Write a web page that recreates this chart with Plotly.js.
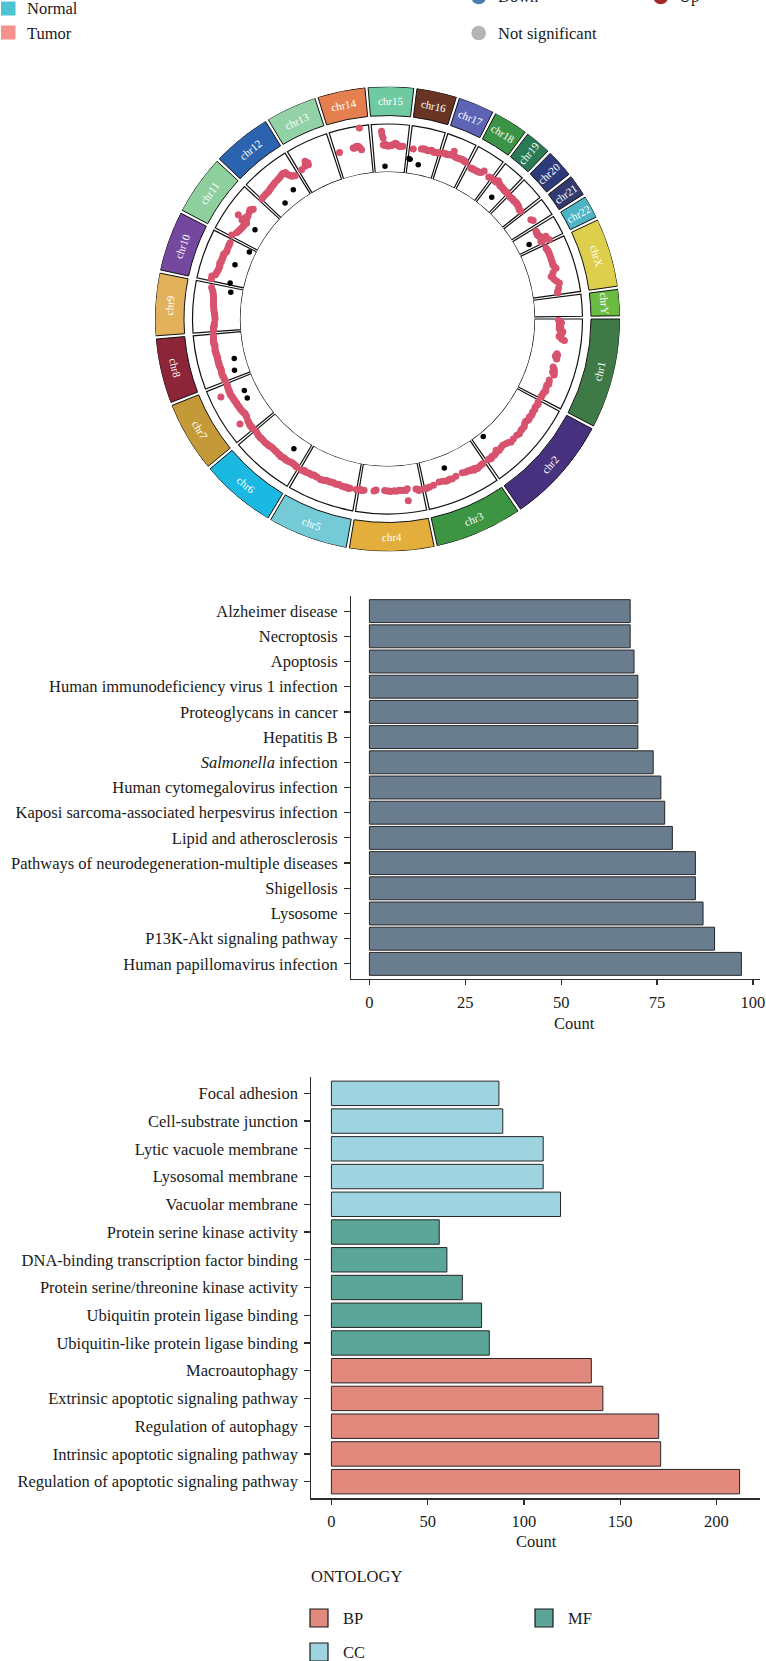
<!DOCTYPE html>
<html>
<head>
<meta charset="utf-8">
<script src="https://cdn.plot.ly/plotly-3.0.1.min.js"></script>
<style>
  html, body { margin: 0; padding: 0; background: #ffffff; }
  #chart { width: 766px; height: 1661px; }
</style>
</head>
<body>
<div id="chart"></div>
<script>
// ---------- genome layout ----------
const chromNames = ['chr1','chr2','chr3','chr4','chr5','chr6','chr7','chr8','chr9','chr10','chr11','chr12',
  'chr13','chr14','chr15','chr16','chr17','chr18','chr19','chr20','chr21','chr22','chrX','chrY'];
const chromLengths = [249.25,243.20,198.02,191.15,180.92,171.12,159.14,146.36,141.21,135.53,135.01,133.85,
  115.17,107.35,102.53,90.35,81.20,78.08,59.13,63.03,48.13,51.30,155.27,59.37];
const chromColors = ['#3F7A46','#46327E','#3D9442','#E3AE3B','#74CBD7','#1BB8E1','#C39A37','#8C2538',
  '#E2B15C','#7548A0','#8ECF9E','#2C63AE','#93D1A7','#E57F50','#6FC9A1','#6A3424','#5D63B5','#3B9446',
  '#2B7A56','#2E3B7B','#333A6E','#4CB4C4','#DDCF4C','#69BB41'];
// narrow sectors whose labels run outward instead of along the ring
const radialLabels = ['chr19','chr20','chr21','chr22'];

// ---------- track points: [position (Mb), score] ----------
const sig_chr1  = [[3.6,5.0],[8,5.3],[11,5.6],[14.5,5.5],[17,5.3],[20,5.2],[25,5.5],[29,5.2],[33,5.4],[38,6.0],[43,5.8],[49,5.5],[52,5.3],[56,5.7],[60,6.0],[63,6.5],[105,5.4],[109,5.6],[113,5.2],[117,5.4],[121,5.6],[147,5.3],[152,5.6],[157,5.8],[162,5.5],[165,5.9],[169,6.0],[188,5.4],[193,5.5],[200,5.6],[205,5.3],[215,5.4],[222,5.6],[228,5.4],[233,5.3],[240,5.3],[245,5.2]];
const sig_chr2  = [[6,5.2],[10,5.4],[15,5.3],[24,5.2],[30,5.4],[40,5.3],[45,5.4],[50,5.5],[58,5.3],[64,5.5],[70,5.4],[76,5.2],[83,5.3],[90,5.6],[99,5.6],[106,5.6],[116,5.8],[125,5.6],[140,5.6],[151,5.7],[158,5.4],[166,5.2],[176,5.0],[185,5.1],[195,5.3],[201,4.85],[208,5.3],[215,5.45],[222,5.3],[228,5.6],[233,5.4],[238,5.4]];
const sig_chr3  = [[8,5.45],[15,5.5],[24,5.6],[29,5.7],[34,5.5],[37,5.4],[40,5.7],[47,5.3],[52,5.35],[58,5.2],[65,5.2],[75,5.0],[97,5.1],[110,5.3],[118,5.2],[124,5.25],[130,5.3],[140,5.1],[151,5.0],[170,5.3],[183,5.45],[189,5.5],[194,5.6]];
const sig_chr4  = [[8,5.5],[11,5.7],[15,5.4],[19,5.3],[45,5.0],[46,7.5],[50,5.3],[55,5.2],[63,5.2],[70,5.15],[78,5.3],[85,5.2],[95,5.3],[101,5.2],[107,5.2],[114,5.1],[140,5.1],[143,5.2],[146,5.3],[176,5.4],[182,5.5],[185,5.5],[188,5.3]];
const sig_chr5  = [[1,5.5],[20,5.5],[25,5.6],[31,5.4],[35,5.5],[40,5.5],[47,5.45],[55,5.3],[61,5.35],[66,5.4],[72,5.3],[78,5.3],[83,5.4],[89,5.35],[95,5.3],[100,5.5],[107,5.55],[113,5.6],[124,5.45],[130,5.4],[136,5.3],[142,5.5],[148,5.4],[153,5.4],[159,5.5],[164,5.5],[168,5.35],[172,5.45],[176,5.6]];
const sig_chr6  = [[5,5.55],[8,5.5],[12,5.4],[19,5.35],[25,5.3],[30,5.4],[36,5.5],[41,5.5],[45,5.6],[50,5.45],[55,5.5],[59,5.6],[62,5.65],[66,5.5],[70,5.55],[73,5.5],[80,5.45],[87,5.4],[94,5.4],[101,5.35],[105,5.45],[110,5.5],[114,5.5],[119,5.55],[125,5.6],[133,5.55],[140,5.55],[144,5.6],[148,5.6],[155,5.6],[160,5.5],[166,5.4]];
const sig_chr7  = [[1,5.5],[4,5.6],[8,5.55],[12,5.5],[15,5.6],[20,5.5],[26,5.4],[31,5.35],[36,7.1],[42,5.1],[47,5.05],[53,5.0],[58,5.1],[63,5.2],[68,5.25],[73,5.3],[78,5.3],[82,5.35],[87,5.4],[92,5.4],[97,5.4],[101,5.45],[105,5.5],[110,5.5],[114,5.55],[119,5.6],[123,5.65],[127,5.7],[130,7.7],[132,5.6],[136,5.65],[140,5.65],[143,5.6],[148,5.55],[153,5.5]];
const sig_chr8  = [[3,5.55],[8,5.6],[14,5.6],[19,5.7],[25,5.75],[31,5.65],[37,5.6],[42,5.65],[46,5.7],[53,5.75],[57,5.7],[61,5.75],[67,5.75],[73,5.7],[77,5.7],[82,5.75],[86,5.8],[90,5.8],[94,5.85],[98,5.9],[105,5.8],[112,5.75],[116,5.9],[120,5.85],[124,5.9],[128,5.95],[134,5.85],[141,5.8]];
const sig_chr9  = [[4,5.7],[8,5.7],[11,5.65],[14,5.6],[17,5.55],[20,5.5],[25,5.45],[38,5.3],[45,5.35],[51,5.4],[58,5.5],[65,5.6],[71,5.65],[77,5.7],[82,5.75],[88,5.8],[94,5.85],[101,5.9],[108,6.0],[115,6.1],[122,6.3],[130,6.6]];
const sig_chr10 = [[6,7.0],[14,7.05],[20,6.4],[26,6.3],[31,6.2],[36,6.1],[42,6.05],[48,6.0],[52,6.1],[57,6.2],[62,6.0],[68,6.05],[72,6.0],[76,6.0],[80,6.05],[84,6.1],[90,5.9],[96,5.7],[102,5.75],[112,5.8],[118,5.8],[124,5.8]];
const sig_chr11 = [[4,6.25],[17,5.6],[24,5.4],[30,5.3],[37,5.2],[44,5.1],[50,5.2],[54,5.0],[58,4.9],[58,6.1],[60,5.3],[62,5.5],[64,7.3],[67,5.8],[70,5.4],[74,5.6],[78,5.5],[90,5.8],[96,5.95],[99,5.7],[103,5.5]];
const sig_chr12 = [[2,5.6],[8,5.65],[17,5.7],[24,5.7],[31,5.7],[36,5.8],[42,5.9],[48,6.0],[55,6.1],[62,6.2],[72,6.3],[80,6.4],[86,6.5],[93,6.65],[97,6.7],[100,6.6],[103,6.4],[105,6.55],[108,5.85],[111,5.6],[114,5.2],[119,5.1],[124,4.9]];
const sig_chr13 = [[9,5.25],[23,5.55],[26,5.8],[29,6.2],[30,6.45],[32,6.0],[34,5.5],[35,5.9]];
const sig_chr14 = [[12,5.5],[55,5.7],[58,5.6],[63,5.8],[66,5.95],[71,5.9],[75,5.5],[79,5.05],[82,9.6]];
const sig_chr15 = [[27,8.5],[28,7.8],[31,7.1],[31,5.7],[35,5.5],[37,5.8],[39,5.6],[42,5.5],[46,5.35],[50,5.5],[53,5.6],[57,5.55],[60,5.7],[64,5.8],[67,6.05],[70,5.9],[74,5.7],[77,5.55],[80,5.4],[85,5.45],[90,5.5]];
const sig_chr16 = [[12,5.2],[36,5.5],[40,5.6],[46,5.65],[50,5.5],[57,5.45],[62,5.55],[66,5.7],[70,5.6],[74,5.4],[79,5.45],[84,5.5],[87,5.5],[90,5.6]];
const sig_chr17 = [[3,5.8],[7,5.85],[11,5.9],[15,5.85],[19,5.8],[23,5.9],[26,6.0],[29,6.1],[32,6.2],[33,7.0],[37,6.1],[41,6.0],[45,5.95],[50,5.95],[54,6.0],[59,6.0],[62,6.05],[66,6.1],[69,6.0],[72,5.95],[75,5.9],[77,5.85]];
const sig_chr18 = [[10,5.3],[13,5.3],[16,5.35],[19,5.3],[22,5.35],[28,5.35],[33,5.4],[38,5.4],[44,5.6],[49,6.2],[70,5.7],[74,5.8],[77,5.9]];
const sig_chr19 = [[4,5.9],[7,5.8],[9,5.85],[11,5.9],[13,5.8],[14,6.3],[17,6.1],[20,6.0],[24,5.9],[27,5.7],[31,5.75],[35,5.75],[38,5.7],[41,5.65],[45,5.6],[48,5.6],[52,5.6],[55,5.65],[58,5.6]];
const sig_chr20 = [[4,5.4],[7,5.4],[10,5.4],[13,5.45],[16,5.5],[20,5.45],[24,5.4],[28,5.5],[31,5.5],[35,5.45],[38,5.45],[42,5.4],[46,5.3],[50,5.15],[53,5.05],[57,5.1],[60,5.1]];
const sig_chr21 = [[28,5.7],[34,6.0]];
const sig_chr22 = [[10,5.3],[13,5.3],[16,5.25],[19,5.2],[22,5.2],[25,5.3],[28,5.4],[30,5.5],[33,5.6],[37,5.85],[37,6.6],[40,5.4],[42,6.0],[44,5.2],[47,5.3],[50,6.9]];
const sig_chrX  = [[10,5.55],[14,5.6],[18,5.7],[23,5.7],[28,5.75],[35,5.7],[43,5.7],[50,5.65],[57,5.7],[64,5.6],[70,5.8],[77,6.05],[87,5.2],[97,4.6],[102,4.9],[108,5.1],[115,5.5],[122,5.95],[136,5.6],[145,5.3],[150,5.25]];

const low_chr2  = [[205,0.94]];
const low_chr3  = [[121,2.6]];
const low_chr6  = [[44,2.7]];
const low_chr7  = [[91,2.9],[117,2.7]];
const low_chr8  = [[23,3.0],[60,2.35]];
const low_chr9  = [[126,2.5]];
const low_chr10 = [[6,3.0],[67,3.1],[124,1.35]];
const low_chr11 = [[55,2.66]];
const low_chr12 = [[45,1.6],[94,2.7]];
const low_chr15 = [[35,1.2]];
const low_chr16 = [[3,3.1],[7,3.0],[36,2.15]];
const low_chr19 = [[31,2.75]];
const low_chr22 = [[36,2.7]];

const sigByChrom = {chr1:sig_chr1,chr2:sig_chr2,chr3:sig_chr3,chr4:sig_chr4,chr5:sig_chr5,chr6:sig_chr6,
  chr7:sig_chr7,chr8:sig_chr8,chr9:sig_chr9,chr10:sig_chr10,chr11:sig_chr11,chr12:sig_chr12,chr13:sig_chr13,
  chr14:sig_chr14,chr15:sig_chr15,chr16:sig_chr16,chr17:sig_chr17,chr18:sig_chr18,chr19:sig_chr19,
  chr20:sig_chr20,chr21:sig_chr21,chr22:sig_chr22,chrX:sig_chrX};
const lowByChrom = {chr2:low_chr2,chr3:low_chr3,chr6:low_chr6,chr7:low_chr7,chr8:low_chr8,chr9:low_chr9,
  chr10:low_chr10,chr11:low_chr11,chr12:low_chr12,chr15:low_chr15,chr16:low_chr16,chr19:low_chr19,chr22:low_chr22};

// ---------- KEGG enrichment (bottom to top) ----------
const keggTerms = ['Human papillomavirus infection','P13K-Akt signaling pathway','Lysosome','Shigellosis',
  'Pathways of neurodegeneration-multiple diseases','Lipid and atherosclerosis',
  'Kaposi sarcoma-associated herpesvirus infection','Human cytomegalovirus infection','Salmonella infection',
  'Hepatitis B','Proteoglycans in cancer','Human immunodeficiency virus 1 infection','Apoptosis','Necroptosis',
  'Alzheimer disease'];
const keggLabels = keggTerms.map(t => t === 'Salmonella infection' ? '<i>Salmonella</i> infection' : t);
const keggCounts = [97,90,87,85,85,79,77,76,74,70,70,70,69,68,68];

// ---------- GO enrichment (bottom to top) ----------
const goTerms = ['Regulation of apoptotic signaling pathway','Intrinsic apoptotic signaling pathway',
  'Regulation of autophagy','Extrinsic apoptotic signaling pathway','Macroautophagy',
  'Ubiquitin-like protein ligase binding','Ubiquitin protein ligase binding',
  'Protein serine/threonine kinase activity','DNA-binding transcription factor binding',
  'Protein serine kinase activity','Vacuolar membrane','Lysosomal membrane','Lytic vacuole membrane',
  'Cell-substrate junction','Focal adhesion'];
const goCounts = [212,171,170,141,135,82,78,68,60,56,119,110,110,89,87];
const goOntology = ['BP','BP','BP','BP','BP','MF','MF','MF','MF','MF','CC','CC','CC','CC','CC'];
const ontologyNames = ['BP','MF','CC'];
const ontologyColors = {BP:'#E0897C', MF:'#5BA698', CC:'#9ED4E0'};

// ---------- page geometry (pixels) ----------
const W = 766, H = 1661;
const CX = 387.5, CY = 319, R_OUT = 232.5, R_IN = 147, PX_PER_UNIT = 4.8;
const RMAX = (R_OUT - R_IN) / PX_PER_UNIT;
const BAND_BASE = (203.5 - R_IN) / PX_PER_UNIT;
const TRACK_TOP = 10;
const px = x => x / W;
const py = y => 1 - y / H;

// genomic position -> angle (degrees clockwise from 12 o'clock)
const START_DEG = 90, GAP_DEG = 0.8;
const totalLen = chromLengths.reduce((a, b) => a + b, 0);
const degPerMb = (360 - GAP_DEG * chromNames.length) / totalLen;
const chromStart = {};
{ let acc = START_DEG;
  chromNames.forEach((c, i) => { chromStart[c] = acc; acc += chromLengths[i] * degPerMb + GAP_DEG; }); }
const thetaOf = (c, pos) => chromStart[c] + pos * degPerMb;

const sectorMid = chromNames.map((c, i) => chromStart[c] + chromLengths[i] * degPerMb / 2);
const sectorSpan = chromLengths.map(l => l * degPerMb);

function pointsTrace(byChrom, color, size) {
  const r = [], th = [];
  Object.keys(byChrom).forEach(c => byChrom[c].forEach(p => { th.push(thetaOf(c, p[0])); r.push(p[1]); }));
  return { type: 'scatterpolar', mode: 'markers', r: r, theta: th, subplot: 'polar',
    marker: { color: color, size: size, line: { width: 0 } }, hoverinfo: 'skip', showlegend: false };
}

const traces = [
  { type: 'barpolar', subplot: 'polar', theta: sectorMid, width: sectorSpan,
    r: chromNames.map(() => RMAX - BAND_BASE), base: chromNames.map(() => BAND_BASE),
    marker: { color: chromColors, line: { color: '#111111', width: 1 } }, hoverinfo: 'skip', showlegend: false },
  { type: 'barpolar', subplot: 'polar', theta: sectorMid, width: sectorSpan,
    r: chromNames.map(() => TRACK_TOP), base: chromNames.map(() => 0),
    marker: { color: '#ffffff', line: { color: '#111111', width: 1.2 } }, hoverinfo: 'skip', showlegend: false },
  pointsTrace(sigByChrom, '#D7536E', 7),
  pointsTrace(lowByChrom, '#000000', 5.5),
  { type: 'bar', orientation: 'h', x: keggCounts, y: keggTerms, xaxis: 'x', yaxis: 'y', width: 0.91,
    marker: { color: '#6A7D8E', line: { color: '#262626', width: 1 } }, hoverinfo: 'skip', showlegend: false },
  { type: 'bar', orientation: 'h', x: goCounts, y: goTerms, xaxis: 'x2', yaxis: 'y2', width: 0.88,
    marker: { color: goOntology.map(o => ontologyColors[o]), line: { color: '#262626', width: 1 } },
    hoverinfo: 'skip', showlegend: false }
];

const FONT = 'Liberation Serif, Times New Roman, serif';
const TXT = '#1a1a1a';
const axisLine = { showline: true, linecolor: '#2b2b2b', linewidth: 1.3, ticks: 'outside', tickcolor: '#2b2b2b',
  tickwidth: 1.2, showgrid: false, zeroline: false, tickfont: { family: FONT, size: 16.5, color: TXT } };

const annotations = [];
const shapes = [];

// chromosome labels inside the outer band
chromNames.forEach((c, i) => {
  const m = ((sectorMid[i] % 360) + 360) % 360;
  const rad = m * Math.PI / 180, rr = (203.5 + R_OUT) / 2;
  let rot;
  if (radialLabels.includes(c)) rot = m - 90;
  else rot = (m > 90 && m < 270) ? m - 180 : (m >= 270 ? m - 360 : m);
  annotations.push({ xref: 'paper', yref: 'paper', x: px(CX + rr * Math.sin(rad)), y: py(CY - rr * Math.cos(rad)),
    text: c, showarrow: false, textangle: rot, xanchor: 'center', yanchor: 'middle',
    font: { family: FONT, size: 11, color: '#ffffff' } });
});

// top legends
function legendText(text, x, y) {
  annotations.push({ xref: 'paper', yref: 'paper', x: px(x), y: py(y), text: text, showarrow: false,
    xanchor: 'left', yanchor: 'middle', font: { family: FONT, size: 16.5, color: TXT } });
}
function rectKey(x0, y0, x1, y1, color, line) {
  shapes.push({ type: 'rect', xref: 'paper', yref: 'paper', x0: px(x0), x1: px(x1), y0: py(y1), y1: py(y0),
    fillcolor: color, line: line ? { color: '#1a1a1a', width: 1.2 } : { width: 0 } });
}
function circleKey(cx, cy, r, color) {
  shapes.push({ type: 'circle', xref: 'paper', yref: 'paper', x0: px(cx - r), x1: px(cx + r), y0: py(cy + r), y1: py(cy - r),
    fillcolor: color, line: { width: 0 } });
}
rectKey(1, 1.5, 15.5, 15.5, '#4EC3D3', false);  legendText('Normal', 25, 8.3);
rectKey(1, 25.5, 15.5, 39.5, '#F7918D', false); legendText('Tumor', 25, 33.3);
circleKey(478.7, -3, 7.3, '#4A7DB0'); legendText('Down', 496, -3);
circleKey(478.7, 33, 7.3, '#B5B5B5'); legendText('Not significant', 496, 33.3);
circleKey(660.7, -3, 7.3, '#A3282C'); legendText('Up', 676.5, -3);

// axis titles
annotations.push({ xref: 'paper', yref: 'paper', x: px(574), y: py(1023), text: 'Count', showarrow: false,
  xanchor: 'center', yanchor: 'middle', font: { family: FONT, size: 16.5, color: TXT } });
annotations.push({ xref: 'paper', yref: 'paper', x: px(536), y: py(1541), text: 'Count', showarrow: false,
  xanchor: 'center', yanchor: 'middle', font: { family: FONT, size: 16.5, color: TXT } });

// ontology legend
annotations.push({ xref: 'paper', yref: 'paper', x: px(309), y: py(1576), text: 'ONTOLOGY', showarrow: false,
  xanchor: 'left', yanchor: 'middle', font: { family: FONT, size: 16.5, color: TXT } });
const ontologyKeyPos = { BP: [310, 1609], MF: [535, 1609], CC: [310, 1643] };
ontologyNames.forEach(o => {
  const p = ontologyKeyPos[o];
  rectKey(p[0], p[1], p[0] + 18, p[1] + 18, ontologyColors[o], true);
  legendText(o, p[0] + 31, p[1] + 9);
});

const layout = {
  width: W, height: H,
  margin: { l: 0, r: 0, t: 0, b: 0, pad: 0 },
  paper_bgcolor: '#ffffff', plot_bgcolor: 'rgba(0,0,0,0)',
  font: { family: FONT, color: TXT },
  showlegend: false,
  barmode: 'overlay',
  polar: {
    domain: { x: [px(CX - R_OUT), px(CX + R_OUT)], y: [py(CY + R_OUT), py(CY - R_OUT)] },
    hole: R_IN / R_OUT,
    bgcolor: 'rgba(0,0,0,0)',
    bargap: 0,
    radialaxis: { range: [0, RMAX], visible: false, showgrid: false, showline: false },
    angularaxis: { rotation: 90, direction: 'clockwise', visible: false, showgrid: false, showline: false }
  },
  xaxis: Object.assign({}, axisLine, { domain: [px(350.8), px(760)], anchor: 'y', range: [-4.85, 101.85],
    tickvals: [0, 25, 50, 75, 100], ticklen: 5, ticklabelstandoff: 3 }),
  yaxis: Object.assign({}, axisLine, { domain: [py(979), py(596)], anchor: 'x', type: 'category',
    categoryorder: 'array', categoryarray: keggTerms, range: [-0.6, 14.6], tickvals: keggTerms,
    ticktext: keggLabels, ticklen: 5.5, ticklabelstandoff: 3 }),
  xaxis2: Object.assign({}, axisLine, { domain: [px(311), px(760)], anchor: 'y2', range: [-10.6, 222.6],
    tickvals: [0, 50, 100, 150, 200], ticklen: 5, ticklabelstandoff: 3 }),
  yaxis2: Object.assign({}, axisLine, { domain: [py(1498.3), py(1076.7)], anchor: 'x2', type: 'category',
    categoryorder: 'array', categoryarray: goTerms, range: [-0.6, 14.6], ticklen: 5.5, ticklabelstandoff: 3 }),
  annotations: annotations,
  shapes: shapes,
  hovermode: false
};

Plotly.newPlot('chart', traces, layout, { staticPlot: true, displayModeBar: false });
</script>
</body>
</html>
